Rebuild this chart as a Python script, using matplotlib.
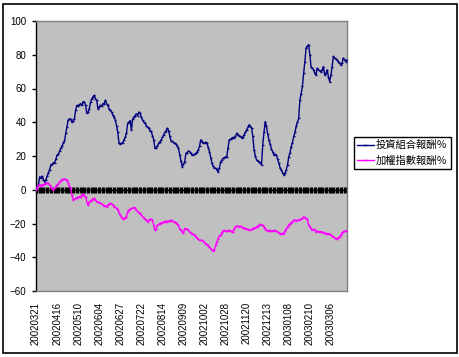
import matplotlib
matplotlib.use("Agg")
import matplotlib.pyplot as plt
from matplotlib.patches import Rectangle
import numpy as np

plt.rcParams['font.family'] = ['Liberation Sans', 'Noto Sans CJK TC', 'DejaVu Sans']

tick_dates = ["20020321", "20020416", "20020510", "20020604", "20020627",
              "20020722", "20020814", "20020909", "20021002", "20021028",
              "20021120", "20021213", "20030108", "20030210", "20030306"]
label_step = 17

portfolio = [
    0, 2, 3, 7.7, 7, 8, 6, 4.8, 6, 8,
    10, 12, 14.7, 15, 16, 16, 18, 20.6, 21, 23,
    24.6, 26, 27.6, 29, 33.5, 37.3, 41.3, 42, 42, 40,
    41, 42, 47.3, 50, 49.5, 50.5, 51, 50, 52.2, 52,
    50, 45.4, 46, 48, 52, 54, 55, 56, 54, 53,
    48, 49, 50, 49.5, 51, 51, 53, 51, 50, 48,
    47, 46, 44.3, 43, 41.3, 38, 34, 27.5, 27, 27.5,
    28, 29.6, 31, 33.5, 39.4, 40, 41, 35.5, 42, 43,
    44, 45, 44, 46, 45.4, 43, 41.3, 40, 39.5, 38,
    37, 36.5, 35, 34.6, 32, 29.6, 24.6, 25, 26, 27.6,
    28.5, 29.6, 31, 32.6, 34, 35, 36.5, 35, 31.6, 29,
    28.6, 28, 27.6, 27, 26, 24.6, 20.6, 17, 13.7, 15,
    16.7, 21.6, 22, 23, 22.6, 21.5, 20.6, 20.5, 21, 21.6,
    22.5, 23.6, 26, 29.6, 28.5, 28, 27.6, 28.2, 27.6, 25,
    22.6, 19, 15.7, 14, 13, 12.7, 12, 10.7, 13, 16.7,
    17.5, 18.6, 19, 19.5, 19.6, 25, 29.5, 30, 30.6, 31,
    30.5, 31.6, 33.5, 32.5, 32, 31.6, 30.6, 31.5, 32.6, 34,
    35.5, 37, 38.5, 37.5, 36.5, 31.6, 23.7, 20, 17.7, 17,
    16.7, 16, 14.7, 26.6, 34, 40.4, 37.5, 33, 29.5, 27,
    24, 22.6, 20.6, 21, 20.6, 18, 15.7, 13, 11.7, 10,
    8.8, 9.8, 12, 14.7, 19.6, 22, 25.6, 28, 31.6, 34,
    37.5, 40, 42.4, 53.3, 57, 61.2, 69, 76, 84, 85,
    86, 80, 73, 72, 71, 69, 68, 72, 71, 70.5,
    70, 71, 73, 68, 69, 71, 67, 64, 68, 73,
    79, 78, 77.5, 77, 76, 75, 74, 75, 78, 77,
    76, 77,
]

index = [
    0, 1, 2.8, 3, 2.5, 3, 2.8, 3.5, 4, 3.8,
    3.8, 2.8, 1.5, 0.5, 0, 1, 2, 2.8, 3.5, 4.8,
    5.5, 6, 6.2, 6.5, 6, 6, 3.8, 2, 1, -3.1,
    -6, -5.5, -5, -5, -4.5, -4, -4, -3, -2.5, -3.5,
    -4, -7, -9, -7.5, -6.5, -6, -5.5, -5, -6, -7,
    -7.5, -7.5, -8, -8.5, -9, -9.5, -9.5, -10, -9, -8.5,
    -8, -8.5, -9, -10, -10.5, -11, -12, -13.5, -15, -16,
    -17.5, -17, -16.5, -16, -13, -12, -11.5, -11, -11, -10.5,
    -11, -12, -13, -13.5, -14, -15, -16, -16.5, -17.5, -18,
    -19, -18, -17.5, -17.5, -18, -21, -24, -23, -21, -20.5,
    -20, -19.5, -19.5, -19, -19, -18.5, -19, -18.5, -18.5, -18,
    -18.5, -19, -19, -19.5, -20.5, -21, -23.5, -24, -25, -25.5,
    -23, -23, -23.5, -24, -25, -25.5, -26, -26.5, -27, -28,
    -28.5, -29.4, -30, -30, -30, -30.5, -31.4, -32, -32.5, -33,
    -34, -35, -35.5, -36, -35.5, -33, -30.8, -29, -27.5, -26.8,
    -25.5, -24.4, -24, -24.5, -24.4, -24.4, -24, -24.5, -24.8, -24.8,
    -23, -22, -21.5, -21.5, -22, -21.5, -22, -22.5, -22.5, -23,
    -23, -23.5, -24, -24, -23.5, -23, -22.5, -22.5, -22, -21.5,
    -21, -20.5, -21, -21, -22, -23, -24, -24.4, -24, -24.4,
    -24.4, -24.5, -24, -24.4, -24.4, -25, -25.5, -26, -26, -26,
    -25.5, -24.5, -23, -22, -21, -20, -19.5, -19, -18, -18,
    -18.5, -18, -18, -17.6, -17.6, -17, -16, -16.5, -17, -17.6,
    -21, -22, -23, -24, -23.5, -24, -24.8, -24.5, -24.8, -24.8,
    -25, -24.8, -25.5, -25.5, -26, -26, -26, -26.3, -27, -27.5,
    -27.8, -28.5, -29, -29.2, -28.5, -27.8, -27, -25.5, -24.8, -24.5,
    -24.2, -24.5,
]

series_names = ["投資組合報酬％", "加權指數報酬％"]

n = len(portfolio)
x = np.arange(n)

fig = plt.figure(figsize=(4.6, 3.57), dpi=100)
fig.patch.set_facecolor("white")
ax = fig.add_axes([36/460, 1-291/357, (347-36)/460, (291-21)/357])
ax.set_facecolor("#C0C0C0")

# zero category axis with cross tick marks
ax.axhline(0, color="black", lw=1.0, zorder=2)
tx = np.arange(0, n, 3)
ax.plot(tx, np.zeros_like(tx), linestyle="none", marker="|", markersize=4,
        markeredgewidth=2.4, color="black", zorder=2)

l1, = ax.plot(x, portfolio, color="#000080", lw=1.0, marker="_", markersize=2,
              markeredgewidth=1.0, zorder=3)
l2, = ax.plot(x, index, color="#FF00FF", lw=1.0, marker="_", markersize=2,
              markeredgewidth=1.0, zorder=3)

ax.set_xlim(0, n - 1)
ax.set_ylim(-60, 100)
ax.set_yticks(np.arange(-60, 101, 20))
ax.tick_params(axis="y", direction="out", length=3, width=1, pad=4, labelsize=7,
               color="black")
ticks_x = [i * label_step for i in range(len(tick_dates))]
ax.set_xticks(ticks_x)
ax.set_xticklabels(tick_dates, rotation=90, fontsize=7, va="top")
ax.tick_params(axis="x", length=0, pad=8)

for s in ["top", "right", "bottom"]:
    ax.spines[s].set_color("#808080")
    ax.spines[s].set_linewidth(1)
ax.spines["left"].set_color("black")
ax.spines["left"].set_linewidth(1)

leg = fig.legend([l1, l2], series_names, loc="upper left",
                 bbox_to_anchor=(354/460, 1-137/357), frameon=True, fancybox=False,
                 edgecolor="black", facecolor="white", framealpha=1,
                 prop={"family": ["Noto Sans CJK TC", "DejaVu Sans"], "size": 7.4},
                 handlelength=1.6, handletextpad=0.25, borderpad=0.3,
                 labelspacing=0.55, borderaxespad=0, numpoints=1, markerscale=1.5)
leg.get_frame().set_linewidth(1.0)

fig.patches.append(Rectangle((3/460, 4/357), 454/460, 349/357, transform=fig.transFigure,
                             fill=False, edgecolor="black", lw=1.2))

fig.savefig("out.png", dpi=100, facecolor="white")
